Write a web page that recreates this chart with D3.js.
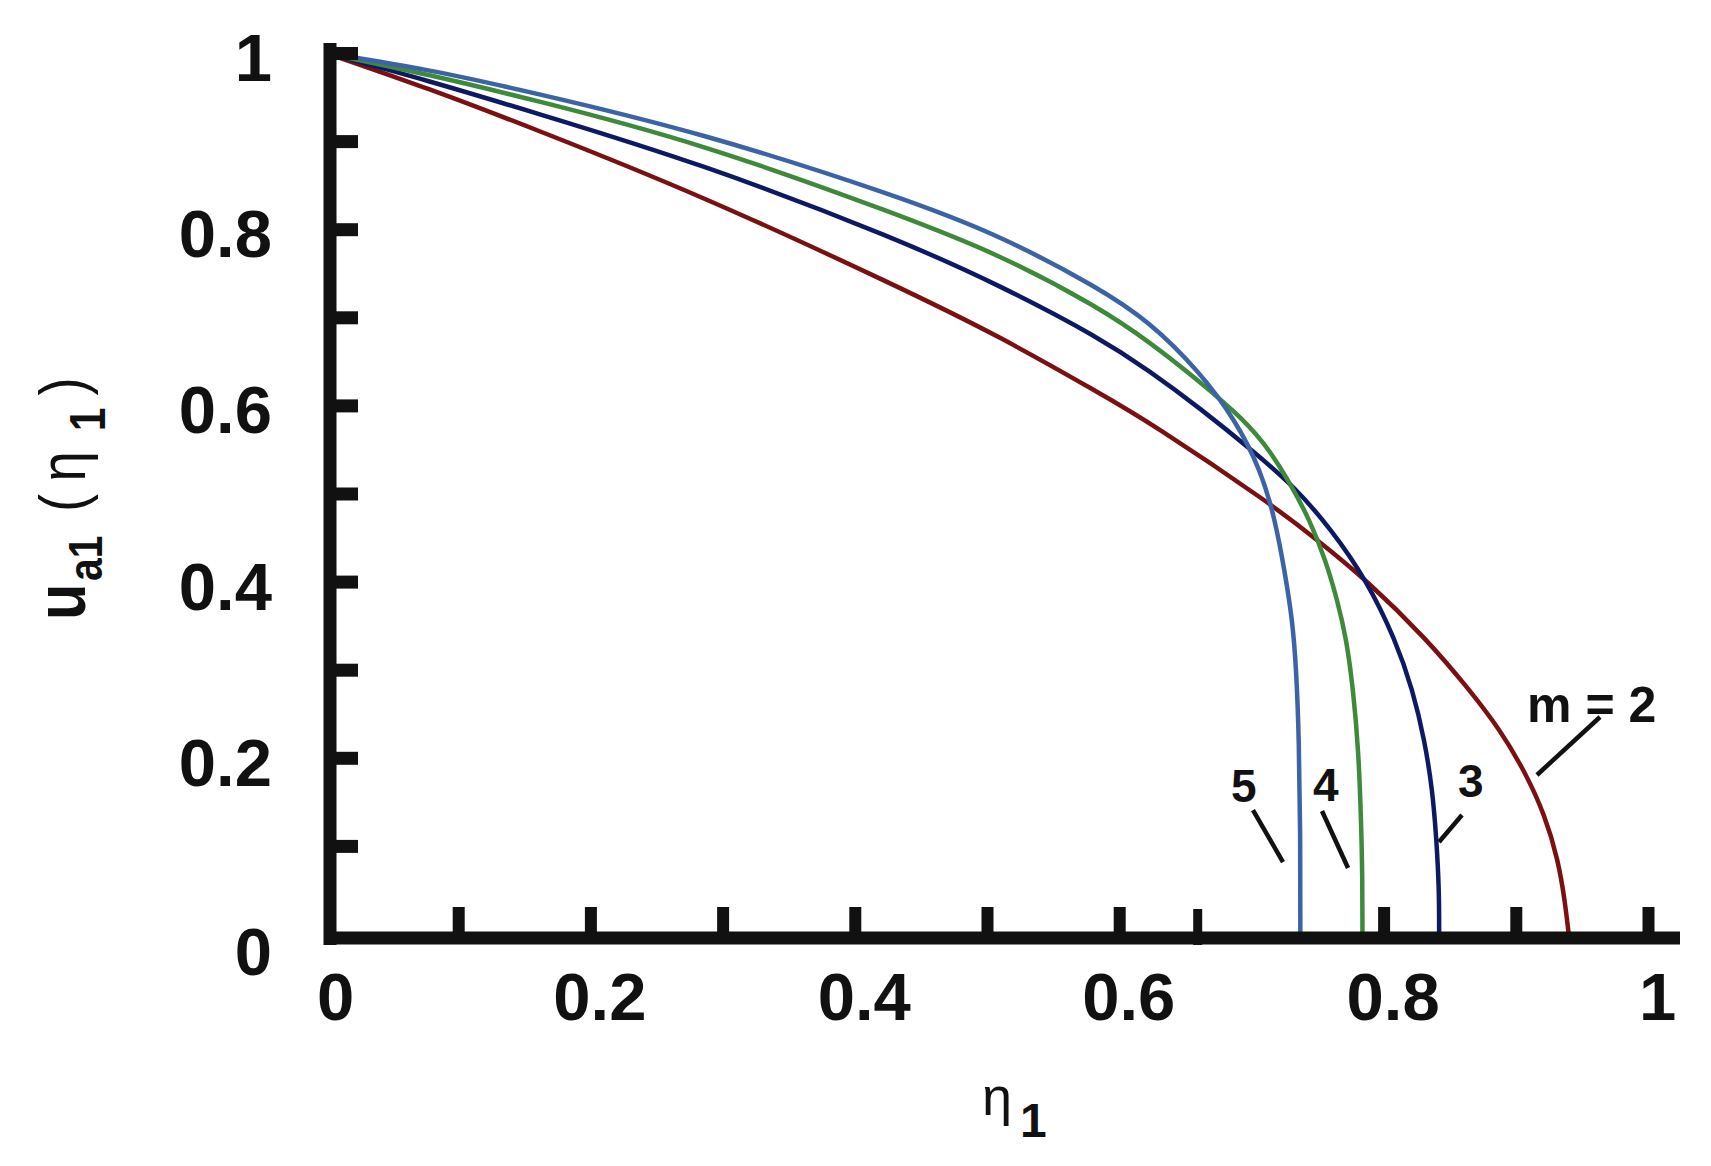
<!DOCTYPE html>
<html>
<head>
<meta charset="utf-8">
<script src="https://cdn.jsdelivr.net/npm/d3@7"></script>
<style>
  body { margin: 0; background: #fff; }
  text { font-family: "Liberation Sans", Arial, sans-serif; fill: #111; }
</style>
</head>
<body>
<div id="chart"></div>
<script>
// curve data (eta_1, u_a1)
const etaM2 = [0, 0.079, 0.154, 0.283, 0.434, 0.510, 0.585, 0.623, 0.716, 0.750, 0.787, 0.833, 0.865, 0.888, 0.907, 0.922, 0.932, 0.937, 0.940];
const uM2   = [1, 0.959, 0.916, 0.839, 0.734, 0.678, 0.614, 0.581, 0.487, 0.447, 0.402, 0.334, 0.277, 0.232, 0.184, 0.135, 0.084, 0.039, 0];

const etaM3 = [0, 0.079, 0.154, 0.283, 0.434, 0.510, 0.585, 0.623, 0.661, 0.703, 0.733, 0.760, 0.787, 0.809, 0.822, 0.831, 0.837, 0.840, 0.842, 0.842];
const uM3   = [1, 0.968, 0.934, 0.875, 0.788, 0.736, 0.677, 0.639, 0.597, 0.546, 0.507, 0.460, 0.402, 0.334, 0.277, 0.220, 0.163, 0.107, 0.050, 0];

const etaM4 = [0, 0.079, 0.154, 0.283, 0.434, 0.510, 0.585, 0.623, 0.661, 0.695, 0.714, 0.731, 0.744, 0.756, 0.765, 0.772, 0.777, 0.781, 0.783, 0.784, 0.784];
const uM4   = [1, 0.975, 0.948, 0.898, 0.816, 0.771, 0.711, 0.672, 0.627, 0.583, 0.549, 0.507, 0.470, 0.425, 0.379, 0.334, 0.277, 0.209, 0.129, 0.061, 0];

const etaM5 = [0, 0.079, 0.154, 0.283, 0.434, 0.510, 0.585, 0.623, 0.661, 0.688, 0.707, 0.718, 0.725, 0.731, 0.734, 0.736, 0.737, 0.737];
const uM5   = [1, 0.981, 0.956, 0.910, 0.837, 0.793, 0.733, 0.695, 0.638, 0.583, 0.527, 0.470, 0.413, 0.357, 0.300, 0.220, 0.118, 0];

const mValues = [2, 3, 4, 5];
const mLabels = ["m = 2", "3", "4", "5"];

// tick values
const xTickValues = [0.1, 0.2, 0.3, 0.4, 0.5, 0.6, 0.8, 0.9, 1];
const xOddTick = [0.659];
const xLabelValues = [0, 0.2, 0.4, 0.6, 0.8, 1];
const yTickValues = [0.1, 0.2, 0.3, 0.4, 0.5, 0.6, 0.7, 0.8, 0.9, 1];
const yLabelValues = [0, 0.2, 0.4, 0.6, 0.8, 1];

// annotation anchors in data units: text position, leader start, leader end
const labelPos   = [[0.9085, 0.2406], [0.8563, 0.1555], [0.7466, 0.151], [0.6846, 0.1498]];
const leaderFrom = [[0.9637, 0.2463], [0.8593, 0.1351], [0.7534, 0.1396], [0.7012, 0.1407]];
const leaderTo   = [[0.9160, 0.1805], [0.8419, 0.1044], [0.7731, 0.0749], [0.7239, 0.0817]];

const colors = { 2: "#7a1012", 3: "#0d1a63", 4: "#3e8a3b", 5: "#3b63a5" };

const width = 1711, height = 1166;

const svg = d3.select("#chart")
  .append("svg")
    .attr("width", width)
    .attr("height", height);

const x = d3.scaleLinear().domain([0, 1]).range([326, 1648]);
const y = d3.scaleLinear().domain([0, 1]).range([934, 53]);

const series = [
  { m: 2, eta: etaM2, u: uM2 },
  { m: 3, eta: etaM3, u: uM3 },
  { m: 4, eta: etaM4, u: uM4 },
  { m: 5, eta: etaM5, u: uM5 }
];

// basis spline keeps the hand-read points from showing corners
const line = d3.line()
  .x(d => x(d[0]))
  .y(d => y(d[1]))
  .curve(d3.curveBasis);

// curves
svg.append("g")
  .selectAll("path")
  .data(series)
  .enter()
  .append("path")
    .attr("d", s => line(s.eta.map((e, i) => [e, s.u[i]])))
    .attr("fill", "none")
    .attr("stroke", s => colors[s.m])
    .attr("stroke-width", 4.5);

// axis lines
const axisX = 330, axisY = 938;
svg.append("line")
  .attr("x1", axisX).attr("x2", axisX)
  .attr("y1", y(1) - 10).attr("y2", axisY + 7)
  .attr("stroke", "#111").attr("stroke-width", 13);
svg.append("line")
  .attr("x1", axisX - 6).attr("x2", x(1) + 32)
  .attr("y1", axisY).attr("y2", axisY)
  .attr("stroke", "#111").attr("stroke-width", 13);

// y tick marks (inside)
const yTicks = svg.append("g")
  .attr("transform", `translate(${axisX}, 0)`)
  .call(d3.axisLeft(y).tickValues(yTickValues).tickSizeInner(-28).tickSizeOuter(0).tickFormat(""));
yTicks.select(".domain").remove();
yTicks.selectAll("line").attr("stroke", "#111").attr("stroke-width", 13);

// x tick marks (inside)
const xTicks = svg.append("g")
  .attr("transform", `translate(0, ${axisY})`)
  .call(d3.axisBottom(x).tickValues(xTickValues).tickSizeInner(-31).tickSizeOuter(0).tickFormat(""));
xTicks.select(".domain").remove();
xTicks.selectAll("line").attr("stroke", "#111").attr("stroke-width", 12);

const xOdd = svg.append("g")
  .attr("transform", `translate(0, ${axisY + 7})`)
  .call(d3.axisBottom(x).tickValues(xOddTick).tickSizeInner(-36).tickSizeOuter(0).tickFormat(""));
xOdd.select(".domain").remove();
xOdd.selectAll("line").attr("stroke", "#111").attr("stroke-width", 9);

// y tick labels
const yLab = svg.append("g")
  .attr("transform", `translate(${axisX}, 0)`)
  .call(d3.axisLeft(y).tickValues(yLabelValues).tickSize(0).tickPadding(58).tickFormat(d3.format("")));
yLab.select(".domain").remove();
yLab.selectAll("text")
  .attr("font-size", 67)
  .attr("font-weight", "bold")
  .attr("font-family", "Liberation Sans, Arial, sans-serif")
  .attr("fill", "#111")
  .attr("dy", d => d === 0 ? "0.6em" : "0.41em");

// x tick labels
const xLab = svg.append("g")
  .attr("transform", `translate(0, ${axisY})`)
  .call(d3.axisBottom(x).tickValues(xLabelValues).tickSize(0).tickPadding(34).tickFormat(d3.format("")));
xLab.select(".domain").remove();
xLab.selectAll("text")
  .attr("font-size", 67)
  .attr("font-weight", "bold")
  .attr("font-family", "Liberation Sans, Arial, sans-serif")
  .attr("fill", "#111")
  .attr("dx", 9);

// x axis title
const xTitle = svg.append("text")
  .attr("x", 982)
  .attr("y", 1115);
xTitle.append("tspan").attr("font-size", 54).text("η");
xTitle.append("tspan").attr("font-size", 48).attr("font-weight", "bold").attr("dx", 8).attr("dy", 22).text("1");

// y axis title (rotated)
const yTitle = svg.append("g")
  .attr("transform", "translate(85, 620) rotate(-90) scale(0.85, 1)")
  .append("text");
yTitle.append("tspan").attr("x", 0).attr("y", 0).attr("font-size", 70).attr("font-weight", "bold").text("u");
yTitle.append("tspan").attr("x", 46).attr("y", 17).attr("font-size", 48).attr("font-weight", "bold").text("a1");
yTitle.append("tspan").attr("x", 127).attr("y", 0).attr("font-size", 64).text("(");
yTitle.append("tspan").attr("x", 163).attr("y", 0).attr("font-size", 64).text("η");
yTitle.append("tspan").attr("x", 222).attr("y", 20).attr("font-size", 50).attr("font-weight", "bold").text("1");
yTitle.append("tspan").attr("x", 264).attr("y", 0).attr("font-size", 64).text(")");

// m labels and leaders
const notes = svg.append("g");
notes.selectAll("line")
  .data(mValues)
  .enter()
  .append("line")
    .attr("x1", (d, i) => x(leaderFrom[i][0]))
    .attr("y1", (d, i) => y(leaderFrom[i][1]))
    .attr("x2", (d, i) => x(leaderTo[i][0]))
    .attr("y2", (d, i) => y(leaderTo[i][1]))
    .attr("stroke", "#111")
    .attr("stroke-width", 4.5);
notes.selectAll("text")
  .data(mValues)
  .enter()
  .append("text")
    .attr("x", (d, i) => x(labelPos[i][0]))
    .attr("y", (d, i) => y(labelPos[i][1]))
    .attr("font-size", (d, i) => i === 0 ? 50 : 46)
    .attr("font-weight", "bold")
    .text((d, i) => mLabels[i]);
</script>
</body>
</html>
